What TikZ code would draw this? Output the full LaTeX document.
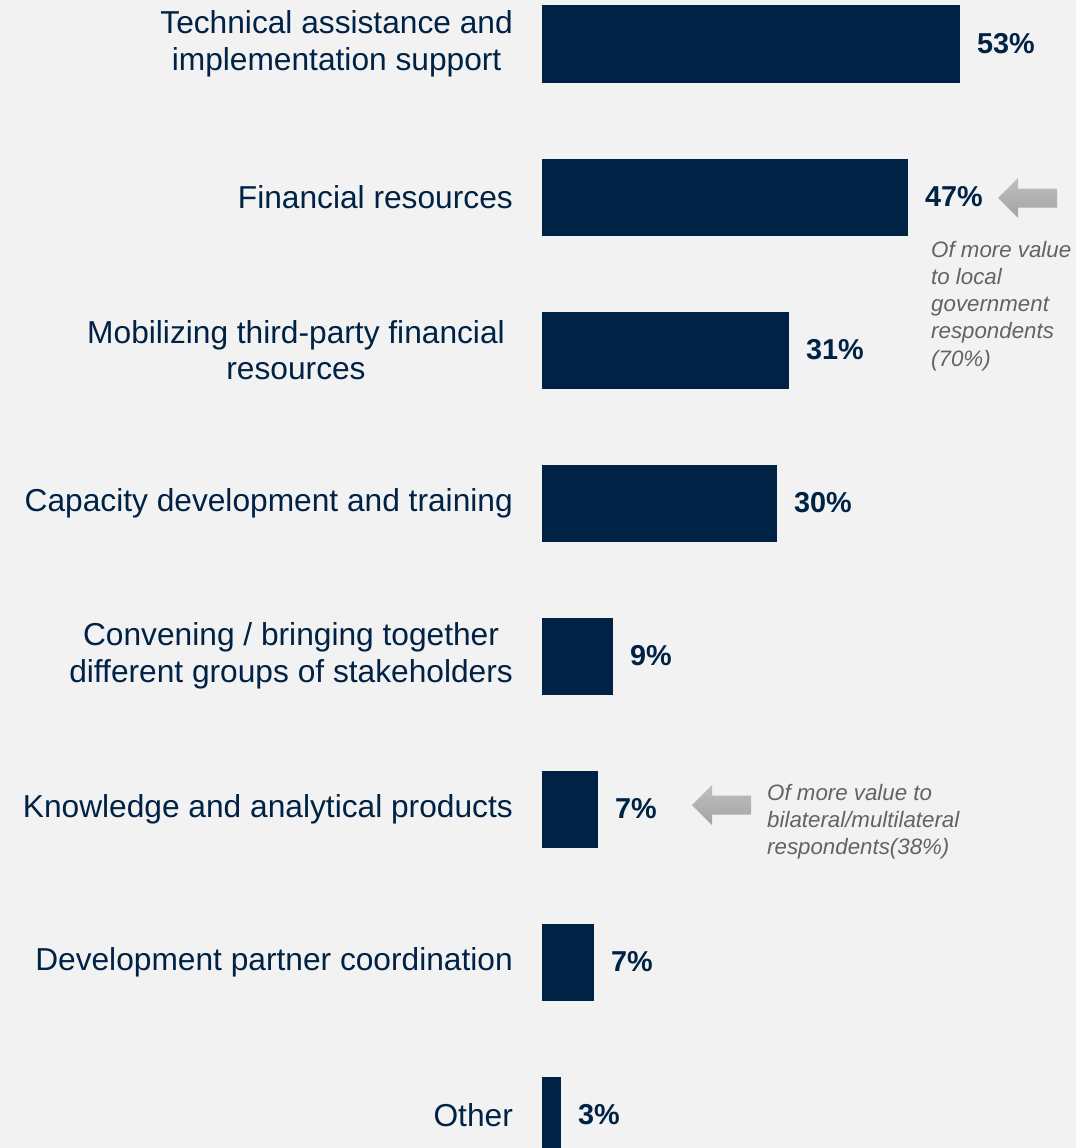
\documentclass[tikz,border=0pt]{standalone}
\usepackage{fontspec}
\setmainfont{Liberation Sans}
\usetikzlibrary{positioning}
\definecolor{navy}{HTML}{002245}
\definecolor{bggray}{HTML}{F2F2F2}
\definecolor{notegray}{HTML}{636363}

\begin{document}
\begin{tikzpicture}[x=1pt, y=-1pt,
    bar/.style = {fill=navy, inner sep=0, minimum height=77pt, anchor=west},
    lab/.style = {text=navy, align=center, inner sep=0, font=\fontsize{31.7}{36.5}\selectfont},
    pct/.style = {text=navy, inner sep=0, font=\bfseries\fontsize{28.8}{34}\selectfont},
    note/.style = {text=notegray, align=left, inner sep=0, anchor=north west, font=\itshape\fontsize{22.3}{27.2}\selectfont},
    garrow/.pic = {\shade[top color=gray!50, bottom color=gray!72]
        (0,0) -- (20,-20) -- (20,-9.5) -- (59,-9.5) -- (59,9.5) -- (20,9.5) -- (20,20) -- cycle;}]
    \useasboundingbox (0,0) rectangle (1076,1148);
    \clip (0,0) rectangle (1076,1148);
    \fill[bggray] (0,0) rectangle (1076,1148);

    % bars, shares and categories
    \foreach \n/\w/\p/\g/\t [count=\i from 0] in {
        b1/418/53/29/{Technical assistance and\\implementation support},
        b2/366/47/29/{Financial resources},
        b3/247/31/37/{Mobilizing third-party financial\\resources},
        b4/235/30/29/{Capacity development and training},
        b5/71/9/29/{Convening / bringing together\\different groups of stakeholders},
        b6/56/7/29/{Knowledge and analytical products},
        b7/52/7/29/{Development partner coordination},
        b8/19/3/29/{Other}} {
        \node[bar, minimum width=\w pt] (\n) at (542, {44+153*\i}) {};
        \node[pct, right=16.5pt of \n] (p\n) {\p\%};
        \node[lab, left=\g pt of \n] (l\n) {\t};
    }

    % call-outs
    \pic at (998,198) {garrow};
    \node[note] (n1) at (931,241) {Of more value\\to local\\government\\respondents\\(70\%)};

    \pic at (692,805) {garrow};
    \node[note] (n2) at (767,784) {Of more value to\\bilateral/multilateral\\respondents(38\%)};
\end{tikzpicture}
\end{document}
